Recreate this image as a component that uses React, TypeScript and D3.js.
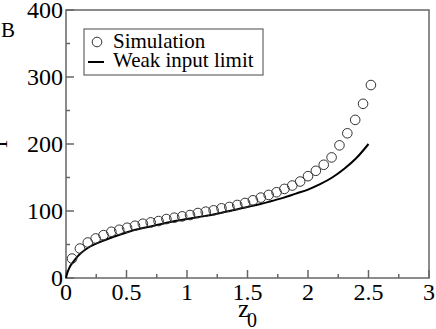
import React from "react";
import * as d3 from "d3";

// simulation points (z0, T)
const simZ = [0.05, 0.115, 0.18, 0.245, 0.31, 0.375, 0.44, 0.505, 0.57, 0.635, 0.7, 0.765, 0.83, 0.895, 0.96, 1.025, 1.09, 1.155, 1.22, 1.285, 1.35, 1.415, 1.48, 1.545, 1.61, 1.675, 1.74, 1.805, 1.87, 1.935, 2.0, 2.065, 2.13, 2.195, 2.26, 2.325, 2.39, 2.455, 2.52];
const simT = [29, 44, 53, 59, 64, 69, 72, 75, 78, 81, 83, 85, 88, 90, 92, 94, 97, 99, 101, 104, 106, 109, 112, 116, 120, 124, 128, 133, 138, 144, 152, 160, 169, 180, 198, 216, 236, 260, 288];

// weak input limit curve
const weakZ = [0, 0.01, 0.03, 0.06, 0.1, 0.15, 0.2, 0.3, 0.4, 0.5, 0.6, 0.7, 0.8, 0.9, 1.0, 1.1, 1.2, 1.3, 1.4, 1.5, 1.6, 1.7, 1.8, 1.9, 2.0, 2.1, 2.2, 2.3, 2.4, 2.5];
const weakT = [0, 7, 16, 24, 33, 41, 47, 55, 62, 68, 73, 77, 81, 85, 88, 91, 94, 98, 102, 106, 110, 115, 120, 126, 132, 140, 150, 163, 179, 200];

const xTicks = [0, 0.5, 1, 1.5, 2, 2.5, 3];
const xTickLabels = ["0", "0.5", "1", "1.5", "2", "2.5", "3"];
const xMinor = [0.25, 0.75, 1.25, 1.75, 2.25, 2.75];
const yTicks = [0, 100, 200, 300, 400];
const yTickLabels = ["0", "100", "200", "300", "400"];
const yMinor = [50, 150, 250, 350];

const legendLabels = ["Simulation", "Weak input limit"];

const W = 436;
const H = 329;
const m = { left: 66, right: 7, top: 10, bottom: 51 };

const ts = { fontFamily: '"Liberation Serif"' };

export default function App() {
  const x = d3.scaleLinear().domain([0, 3]).range([m.left, W - m.right]);
  const y = d3.scaleLinear().domain([0, 400]).range([H - m.bottom, m.top]);

  const line = d3
    .line<number>()
    .x((d, i) => x(weakZ[i]))
    .y((d) => y(d))
    .curve(d3.curveMonotoneX);

  const frame = "#666";

  return (
    <div style={{ position: "absolute", left: 0, top: 0 }}>
      <svg width={W} height={H} style={{ display: "block", background: "white" }}>
        {/* frame */}
        <rect x={x(0)} y={y(400)} width={x(3) - x(0)} height={y(0) - y(400)} fill="none" stroke={frame} strokeWidth={1.5} />

        {/* x ticks */}
        {xTicks.map((t) => (
          <line key={"xt" + t} x1={x(t)} x2={x(t)} y1={y(0)} y2={y(0) - 8} stroke={frame} strokeWidth={1.5} />
        ))}
        {xMinor.map((t) => (
          <line key={"xm" + t} x1={x(t)} x2={x(t)} y1={y(0)} y2={y(0) - 4} stroke={frame} strokeWidth={1.5} />
        ))}
        {xTicks.map((t, i) => (
          <text key={"xl" + t} x={x(t)} y={y(0) + 22} textAnchor="middle" fontSize={24} fill="#000" style={ts}>
            {xTickLabels[i]}
          </text>
        ))}

        {/* y ticks */}
        {yTicks.map((t) => (
          <line key={"yt" + t} x1={x(0)} x2={x(0) + 8} y1={y(t)} y2={y(t)} stroke={frame} strokeWidth={1.5} />
        ))}
        {yMinor.map((t) => (
          <line key={"ym" + t} x1={x(0)} x2={x(0) + 4} y1={y(t)} y2={y(t)} stroke={frame} strokeWidth={1.5} />
        ))}
        {yTicks.map((t, i) => (
          <text key={"yl" + t} x={x(0) - 3} y={y(t) + 8} textAnchor="end" fontSize={24} fill="#000" style={ts}>
            {yTickLabels[i]}
          </text>
        ))}

        {/* axis titles */}
        <text x={1} y={37} fontSize={21} style={ts}>B</text>
        <text transform={`translate(7,${(y(0) + y(400)) / 2}) rotate(-90)`} textAnchor="middle" fontSize={22} style={ts}>T</text>
        <text x={238} y={317} fontSize={26} style={ts}>z</text>
        <text x={247} y={327} fontSize={20} style={ts}>0</text>

        {/* weak input limit */}
        <path d={line(weakT) || ""} fill="none" stroke="#000" strokeWidth={2} />

        {/* simulation */}
        {simT.map((t, i) => (
          <circle key={"s" + i} cx={x(simZ[i])} cy={y(t)} r={4.8} fill="none" stroke="#333" strokeWidth={1} />
        ))}

        {/* legend */}
        <rect x={84} y={29} width={179} height={46} fill="white" stroke={frame} strokeWidth={1.2} />
        <circle cx={97} cy={42} r={4.8} fill="none" stroke="#333" strokeWidth={1} />
        <line x1={88} x2={104} y1={62} y2={62} stroke="#000" strokeWidth={2} />
        <text x={113} y={48} fontSize={21} style={ts}>{legendLabels[0]}</text>
        <text x={113} y={67} fontSize={21} style={ts}>{legendLabels[1]}</text>
      </svg>
    </div>
  );
}
